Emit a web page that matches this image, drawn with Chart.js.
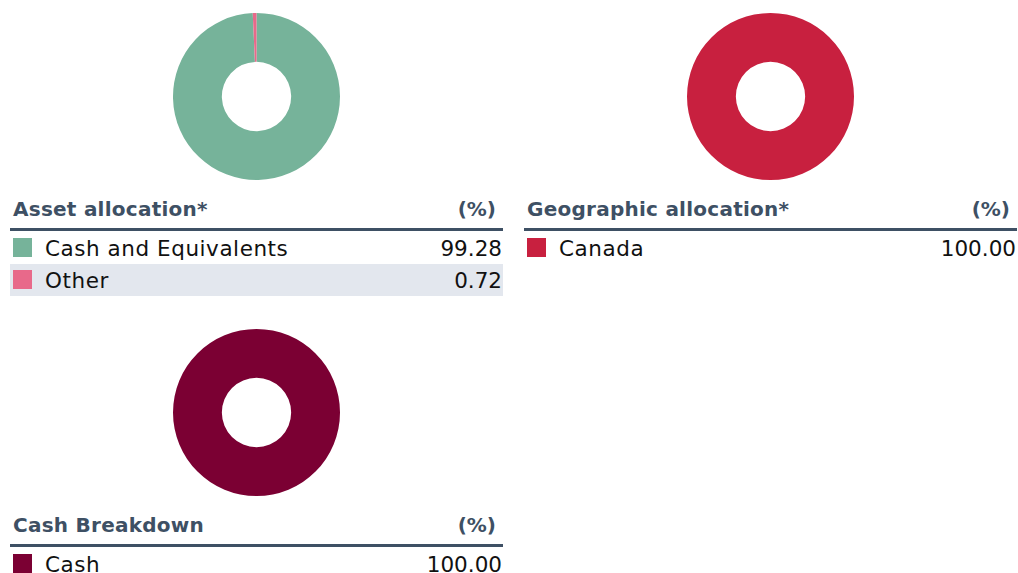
<!DOCTYPE html>
<html>
<head>
<meta charset="utf-8">
<script src="https://cdn.jsdelivr.net/npm/chart.js@4"></script>
<style>
  body { margin: 0; background: #fff; font-family: "DejaVu Sans", sans-serif; overflow: hidden; }
  .panel { position: absolute; width: 493px; }
  .donut { position: absolute; }
  .head {
    position: absolute; left: 0; right: 0; height: 36px;
    border-bottom: 3px solid #3e5064;
    color: #3e5064; font-weight: bold; font-size: 20px;
  }
  .head .t { position: absolute; left: 3px; bottom: 7px; letter-spacing: 0.25px; }
  .head .p { position: absolute; right: 7px; bottom: 7px; }
  .row { position: absolute; left: 0; right: 0; height: 32px; font-size: 21.5px; color: #111; }
  .row.alt { background: #e3e7ee; }
  .row .sw { position: absolute; left: 3px; top: 6px; width: 19px; height: 19px; }
  .row .l { position: absolute; left: 35px; top: 4px; letter-spacing: 0.55px; }
  .row .v { position: absolute; right: 1px; top: 4px; }
</style>
</head>
<body>
<script>
// Asset allocation
const assetLabels = ["Cash and Equivalents", "Other"];
const assetValues = [99.28, 0.72];
const assetColors = ["#76b39a", "#e8698a"];

// Geographic allocation
const geoLabels = ["Canada"];
const geoValues = [100.0];
const geoColors = ["#c8203f"];

// Cash breakdown
const cashLabels = ["Cash"];
const cashValues = [100.0];
const cashColors = ["#7b0033"];

function makePanel(left, top, title, labels, values, colors) {
  const panel = document.createElement("div");
  panel.className = "panel";
  panel.style.left = left + "px";
  panel.style.top = top + "px";
  document.body.appendChild(panel);

  // donut
  const size = 167;
  const canvas = document.createElement("canvas");
  canvas.className = "donut";
  canvas.width = size;
  canvas.height = size;
  canvas.style.left = (246 - size / 2) + "px";
  canvas.style.top = "0px";
  panel.appendChild(canvas);

  new Chart(canvas.getContext("2d"), {
    type: "doughnut",
    data: {
      labels: labels,
      datasets: [{ data: values, backgroundColor: colors, borderWidth: 0 }],
    },
    options: {
      responsive: false,
      animation: false,
      cutout: "41.5%",
      plugins: { legend: { display: false }, tooltip: { enabled: false } },
    },
  });

  // header
  const head = document.createElement("div");
  head.className = "head";
  head.style.top = "179px";
  head.innerHTML = `<span class="t">${title}</span><span class="p">(%)</span>`;
  panel.appendChild(head);

  // rows
  labels.forEach((lab, i) => {
    const row = document.createElement("div");
    row.className = "row" + (i % 2 === 1 ? " alt" : "");
    row.style.top = (219 + i * 32) + "px";
    row.innerHTML = `<span class="sw" style="background:${colors[i]}"></span>
      <span class="l">${lab}</span><span class="v">${values[i].toFixed(2)}</span>`;
    panel.appendChild(row);
  });
}

makePanel(10, 13, "Asset allocation*", assetLabels, assetValues, assetColors);
makePanel(524, 13, "Geographic allocation*", geoLabels, geoValues, geoColors);
makePanel(10, 329, "Cash Breakdown", cashLabels, cashValues, cashColors);
</script>
</body>
</html>
